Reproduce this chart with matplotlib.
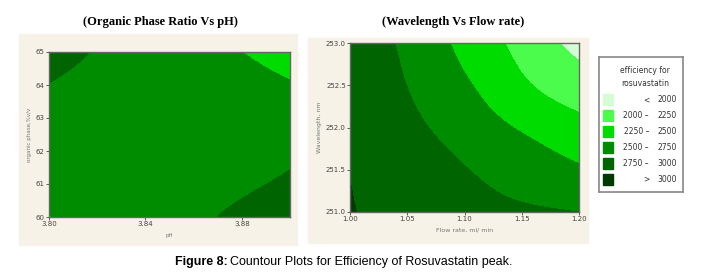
import numpy as np
import matplotlib.pyplot as plt
import matplotlib.tri as mtri
from matplotlib.patches import Rectangle

# Contour levels and colours (legend order: low -> high)
levels = [1500, 2000, 2250, 2500, 2750, 3000, 3500]
fill_colors = ["#d5fdd5", "#4cfc4c", "#00dc00", "#008c00", "#006400", "#003a00"]
legend_labels = [("<", "2000"), ("2000 \u2013", "2250"), ("2250 \u2013", "2500"),
                 ("2500 \u2013", "2750"), ("2750 \u2013", "3000"), (">", "3000")]

# Left: organic phase vs pH
ph = [3.800, 3.825, 3.850, 3.875, 3.900]
organic = [60.0, 61.25, 62.5, 63.75, 65.0]
eff_left = [
    [2495, 2560, 2640, 2775, 2850],
    [2580, 2610, 2640, 2690, 2762],
    [2650, 2640, 2640, 2650, 2660],
    [2730, 2680, 2640, 2595, 2530],
    [2805, 2725, 2640, 2518, 2460],
]

# Right: wavelength vs flow rate
flow = [1.00, 1.04, 1.08, 1.12, 1.16, 1.20]
wavelength = [251.0, 251.5, 252.0, 252.5, 253.0]
eff_right = [
    [3012, 2930, 2860, 2800, 2775, 2750],
    [2997, 2902, 2807, 2712, 2620, 2530],
    [2985, 2848, 2711, 2574, 2444, 2322],
    [2968, 2792, 2615, 2440, 2247, 2118],
    [2955, 2747, 2539, 2330, 2122, 1914],
]

BEIGE = "#f6f2e7"


def smooth_contour(ax, xs, ys, zs):
    # triangulate in unit coordinates so the cubic refiner is not skewed
    gx, gy = np.meshgrid(np.linspace(0, 1, len(xs)), np.linspace(0, 1, len(ys)))
    tri = mtri.Triangulation(gx.ravel(), gy.ravel())
    z = np.array(zs, dtype=float).ravel()
    interp = mtri.CubicTriInterpolator(tri, z, kind="min_E")
    refiner = mtri.UniformTriRefiner(tri)
    tri_f, z_f = refiner.refine_field(z, triinterpolator=interp, subdiv=4)
    x0, x1 = xs[0], xs[-1]
    y0, y1 = ys[0], ys[-1]
    tri_d = mtri.Triangulation(x0 + tri_f.x * (x1 - x0), y0 + tri_f.y * (y1 - y0),
                               tri_f.triangles)
    ax.tricontourf(tri_d, z_f, levels=levels, colors=fill_colors)


fig = plt.figure(figsize=(7.09, 2.80), dpi=100)

# beige panel backgrounds
fig.patches.append(Rectangle((19 / 709, 1 - 245 / 280), 278 / 709, 211 / 280,
                             transform=fig.transFigure, color=BEIGE, zorder=-5))
fig.patches.append(Rectangle((308 / 709, 1 - 243 / 280), 280 / 709, 205 / 280,
                             transform=fig.transFigure, color=BEIGE, zorder=-5))


def style_axes(ax):
    for s in ax.spines.values():
        s.set_color("#666666")
        s.set_linewidth(1.0)
    ax.tick_params(labelsize=5, colors="#444444", length=2, width=0.6, pad=1)


ax1 = fig.add_axes([49 / 709, 1 - 217 / 280, 241 / 709, 165 / 280])
smooth_contour(ax1, ph, organic, eff_left)
ax1.set_xlim(3.80, 3.90)
ax1.set_ylim(60, 65)
ax1.set_xticks([3.80, 3.84, 3.88])
ax1.set_xticklabels(["3.80", "3.84", "3.88"])
ax1.set_yticks([60, 61, 62, 63, 64, 65])
ax1.set_xlabel("pH", fontsize=4, color="#777777", labelpad=4)
ax1.set_ylabel("organic phase,%v/v", fontsize=4, color="#777777", labelpad=3)
style_axes(ax1)
fig.text(160 / 709, 1 - 22 / 280, "(Organic Phase Ratio Vs pH)", ha="center", va="center",
         fontsize=9, fontweight="bold", family="Liberation Serif")

ax2 = fig.add_axes([350 / 709, 1 - 212 / 280, 229 / 709, 169 / 280])
smooth_contour(ax2, flow, wavelength, eff_right)
ax2.set_xlim(1.00, 1.20)
ax2.set_ylim(251.0, 253.0)
ax2.set_xticks([1.00, 1.05, 1.10, 1.15, 1.20])
ax2.set_xticklabels(["1.00", "1.05", "1.10", "1.15", "1.20"])
ax2.set_yticks([251.0, 251.5, 252.0, 252.5, 253.0])
ax2.set_yticklabels(["251.0", "251.5", "252.0", "252.5", "253.0"])
ax2.set_xlabel("Flow rate, ml/ min", fontsize=4.5, color="#777777", labelpad=4)
ax2.set_ylabel("Wavelength, nm", fontsize=4.5, color="#777777", labelpad=3)
style_axes(ax2)
fig.text(453 / 709, 1 - 22 / 280, "(Wavelength Vs Flow rate)", ha="center", va="center",
         fontsize=9, fontweight="bold", family="Liberation Serif")

# legend box
axl = fig.add_axes([599 / 709, 1 - 192 / 280, 84 / 709, 135 / 280])
axl.set_xlim(0, 84)
axl.set_ylim(135, 0)
axl.set_xticks([])
axl.set_yticks([])
for s in axl.spines.values():
    s.set_color("#888888")
    s.set_linewidth(1.2)
axl.text(46, 20, "efficiency for\nrosuvastatin", ha="center", va="center",
         fontsize=5.5, color="#333333", linespacing=1.7)
for i, (c, (a, b)) in enumerate(zip(fill_colors, legend_labels)):
    yc = 43 + i * 15.8
    axl.add_patch(Rectangle((4, yc - 5.5), 10, 11, color=c))
    axl.text(50, yc, a, ha="right", va="center", fontsize=5.5, color="#333333")
    axl.text(78, yc, b, ha="right", va="center", fontsize=5.5, color="#333333")

fig.text(175 / 709, 1 - 262 / 280, "Figure 8:", ha="left", va="center",
         fontsize=9, fontweight="bold", family="Liberation Sans")
fig.text(230 / 709, 1 - 262 / 280, "Countour Plots for Efficiency of Rosuvastatin peak.",
         ha="left", va="center", fontsize=9, family="Liberation Sans")

fig.savefig("out.png", dpi=100)
